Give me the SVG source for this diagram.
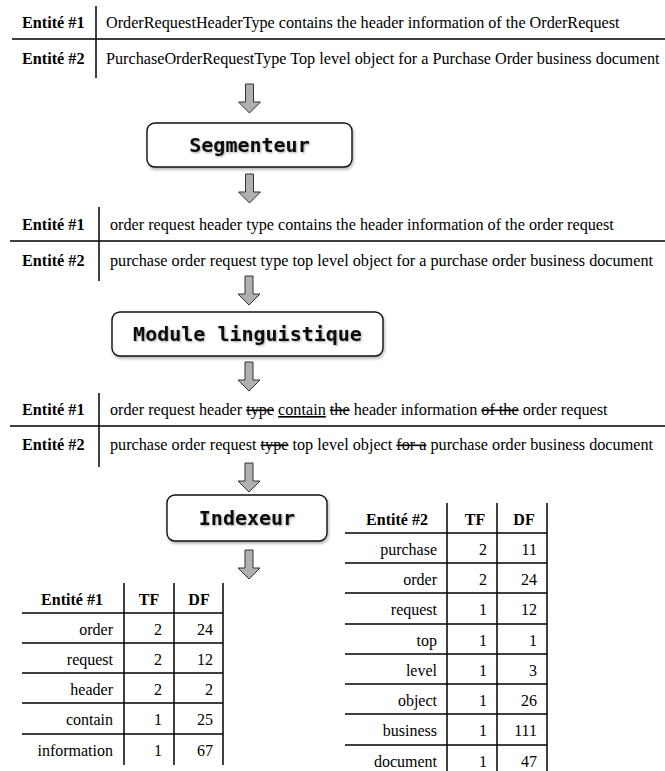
<svg xmlns="http://www.w3.org/2000/svg" width="665" height="771" viewBox="0 0 665 771">
  <style>
    .t { font-family: "Liberation Serif", "Times New Roman", serif; font-size: 16px; fill: #000; }
    .row { font-size: 16.2px; }
    .b { font-weight: bold; }
    .r { text-anchor: end; }
    .c { text-anchor: middle; }
    .rule { stroke: #000; stroke-width: 1.5; fill: none; }
    .box { fill: #fff; stroke: #111; stroke-width: 1.4; }
    .mono { font-family: "DejaVu Sans Mono", "Liberation Mono", monospace; font-size: 20px; font-weight: bold; fill: #111; text-anchor: middle; }
    .arrow { fill: #b0b0b0; stroke: #333; stroke-width: 1; stroke-linejoin: miter; }
    .del { text-decoration: line-through; }
    .ul { text-decoration: underline; }
  </style>
  <defs>
    <filter id="soft" x="-10%" y="-20%" width="125%" height="150%">
      <feDropShadow dx="1" dy="2" stdDeviation="1.6" flood-color="#000" flood-opacity="0.3"/>
    </filter>
    <filter id="glow" x="-10%" y="-30%" width="120%" height="160%">
      <feDropShadow dx="1" dy="1" stdDeviation="1" flood-color="#000" flood-opacity="0.35"/>
    </filter>
    <!-- block arrow, 29 px long, pointing down, origin at top centre -->
    <polygon id="down" class="arrow" points="-4,0 4,0 4,18 11,18 0,29 -11,18 -4,18"/>
  </defs>

  <!-- raw entity descriptions -->
  <g id="entities-raw">
    <line class="rule" x1="96" y1="6" x2="96" y2="78"/>
    <line class="rule" x1="12" y1="39" x2="665" y2="39"/>
    <text class="t row b" x="22" y="28">Entité #1</text>
    <text class="t row" x="106" y="28">OrderRequestHeaderType contains the header information of the OrderRequest</text>
    <text class="t row b" x="22" y="64">Entité #2</text>
    <text class="t row" x="106" y="64">PurchaseOrderRequestType Top level object for a Purchase Order business document</text>
  </g>

  <g id="segmenteur">
    <rect class="box" x="147" y="123" width="205" height="44" rx="8" filter="url(#soft)"/>
    <text class="mono" x="249.5" y="152" filter="url(#glow)">Segmenteur</text>
  </g>

  <!-- segmented entities -->
  <g id="entities-segmented">
    <line class="rule" x1="99" y1="207" x2="99" y2="281"/>
    <line class="rule" x1="10" y1="241" x2="665" y2="241"/>
    <text class="t row b" x="22" y="230">Entité #1</text>
    <text class="t row" x="110" y="230">order request header type contains the header information of the order request</text>
    <text class="t row b" x="22" y="266">Entité #2</text>
    <text class="t row" x="110" y="266">purchase order request type top level object for a purchase order business document</text>
  </g>

  <g id="module-linguistique">
    <rect class="box" x="112" y="312" width="271" height="44" rx="8" filter="url(#soft)"/>
    <text class="mono" x="247.5" y="341" filter="url(#glow)">Module linguistique</text>
  </g>

  <!-- filtered / lemmatised entities -->
  <g id="entities-filtered">
    <line class="rule" x1="99" y1="393" x2="99" y2="467"/>
    <line class="rule" x1="10" y1="426" x2="665" y2="426"/>
    <text class="t row b" x="22" y="415">Entité #1</text>
    <text class="t row" x="110" y="415">order request header <tspan class="del">type</tspan> <tspan class="ul">contain</tspan> <tspan class="del">the</tspan> header information <tspan class="del">of the</tspan> order request</text>
    <text class="t row b" x="22" y="450">Entité #2</text>
    <text class="t row" x="110" y="450">purchase order request <tspan class="del">type</tspan> top level object <tspan class="del">for a</tspan> purchase order business document</text>
  </g>

  <g id="indexeur">
    <rect class="box" x="167" y="495" width="160" height="46" rx="8" filter="url(#soft)"/>
    <text class="mono" x="247" y="525" filter="url(#glow)">Indexeur</text>
  </g>

  <!-- term table, entity 1 -->
  <g id="table-entite-1">
    <line class="rule" x1="124" y1="583" x2="124" y2="765"/>
    <line class="rule" x1="174" y1="583" x2="174" y2="765"/>
    <line class="rule" x1="223" y1="583" x2="223" y2="765"/>
    <line class="rule" x1="22" y1="613" x2="223" y2="613"/>
    <line class="rule" x1="22" y1="643" x2="223" y2="643"/>
    <line class="rule" x1="22" y1="673" x2="223" y2="673"/>
    <line class="rule" x1="22" y1="703" x2="223" y2="703"/>
    <line class="rule" x1="22" y1="734" x2="223" y2="734"/>
    <text class="t b c" x="72" y="605">Entité #1</text>
    <text class="t b c" x="149" y="605">TF</text>
    <text class="t b c" x="199" y="605">DF</text>
    <text class="t r" x="113" y="635">order</text><text class="t r" x="162" y="635">2</text><text class="t r" x="213" y="635">24</text>
    <text class="t r" x="113" y="665">request</text><text class="t r" x="162" y="665">2</text><text class="t r" x="213" y="665">12</text>
    <text class="t r" x="113" y="695">header</text><text class="t r" x="162" y="695">2</text><text class="t r" x="213" y="695">2</text>
    <text class="t r" x="113" y="725">contain</text><text class="t r" x="162" y="725">1</text><text class="t r" x="213" y="725">25</text>
    <text class="t r" x="113" y="756">information</text><text class="t r" x="162" y="756">1</text><text class="t r" x="213" y="756">67</text>
  </g>

  <!-- term table, entity 2 -->
  <g id="table-entite-2">
    <line class="rule" x1="447" y1="503" x2="447" y2="771"/>
    <line class="rule" x1="497" y1="503" x2="497" y2="771"/>
    <line class="rule" x1="547" y1="503" x2="547" y2="771"/>
    <line class="rule" x1="345" y1="533" x2="547" y2="533"/>
    <line class="rule" x1="345" y1="563" x2="547" y2="563"/>
    <line class="rule" x1="345" y1="593" x2="547" y2="593"/>
    <line class="rule" x1="345" y1="624" x2="547" y2="624"/>
    <line class="rule" x1="345" y1="654" x2="547" y2="654"/>
    <line class="rule" x1="345" y1="684" x2="547" y2="684"/>
    <line class="rule" x1="345" y1="714" x2="547" y2="714"/>
    <line class="rule" x1="345" y1="745" x2="547" y2="745"/>
    <text class="t b c" x="397" y="525">Entité #2</text>
    <text class="t b c" x="475" y="525">TF</text>
    <text class="t b c" x="524" y="525">DF</text>
    <text class="t r" x="437" y="555">purchase</text><text class="t r" x="487" y="555">2</text><text class="t r" x="537" y="555">11</text>
    <text class="t r" x="437" y="585">order</text><text class="t r" x="487" y="585">2</text><text class="t r" x="537" y="585">24</text>
    <text class="t r" x="437" y="615">request</text><text class="t r" x="487" y="615">1</text><text class="t r" x="537" y="615">12</text>
    <text class="t r" x="437" y="646">top</text><text class="t r" x="487" y="646">1</text><text class="t r" x="537" y="646">1</text>
    <text class="t r" x="437" y="676">level</text><text class="t r" x="487" y="676">1</text><text class="t r" x="537" y="676">3</text>
    <text class="t r" x="437" y="706">object</text><text class="t r" x="487" y="706">1</text><text class="t r" x="537" y="706">26</text>
    <text class="t r" x="437" y="736">business</text><text class="t r" x="487" y="736">1</text><text class="t r" x="537" y="736">111</text>
    <text class="t r" x="437" y="767">document</text><text class="t r" x="487" y="767">1</text><text class="t r" x="537" y="767">47</text>
  </g>

  <!-- flow arrows between stages -->
  <g id="connectors">
    <use href="#down" x="249.5" y="84"/>
    <use href="#down" x="249.5" y="174"/>
    <use href="#down" x="249" y="276"/>
    <use href="#down" x="249" y="362"/>
    <use href="#down" x="249" y="463"/>
    <use href="#down" x="249" y="550"/>
  </g>
</svg>
